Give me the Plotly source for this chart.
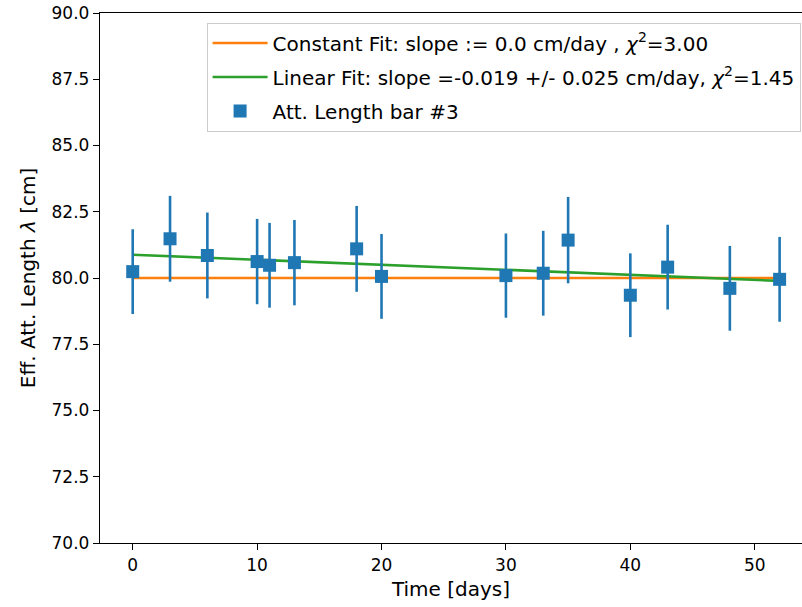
import plotly.graph_objects as go

# Data
days = [0, 3, 6, 10, 11, 13, 18, 20, 30, 33, 35, 40, 43, 48, 52]
att_length = [80.24, 81.48, 80.85, 80.62, 80.48, 80.58, 81.10, 80.06,
              80.09, 80.18, 81.43, 79.35, 80.41, 79.61, 79.95]
att_err = [1.60, 1.62, 1.62, 1.61, 1.60, 1.61, 1.62, 1.60,
           1.59, 1.60, 1.63, 1.58, 1.60, 1.60, 1.60]

fit_days = [0, 52]
const_fit = [80.0, 80.0]
linear_fit = [80.88, 79.89]

const_label = "Constant Fit: slope := 0.0 cm/day , <i>χ</i><sup>2</sup>=3.00"
linear_label = "Linear Fit: slope =-0.019 +/- 0.025 cm/day, <i>χ</i><sup>2</sup>=1.45"
data_label = "Att. Length bar #3"

x_ticks = [0, 10, 20, 30, 40, 50]
y_ticks = [70.0, 72.5, 75.0, 77.5, 80.0, 82.5, 85.0, 87.5, 90.0]

FONT = "DejaVu Sans"

fig = go.Figure()
fig.add_trace(go.Scatter(
    x=fit_days, y=const_fit, mode="lines", name=const_label,
    line=dict(color="#ff7f0e", width=2.6), legendgroup="a"))
fig.add_trace(go.Scatter(
    x=fit_days, y=linear_fit, mode="lines", name=linear_label,
    line=dict(color="#2ca02c", width=2.6), legendgroup="b"))
fig.add_trace(go.Scatter(
    x=days, y=att_length, mode="markers", name=data_label,
    marker=dict(symbol="square", size=13, color="#1f77b4"),
    error_y=dict(type="data", array=att_err, visible=True,
                 color="#1f77b4", thickness=2.6, width=0),
    legendgroup="c"))

fig.update_layout(
    width=802, height=607,
    margin=dict(l=100, r=0, t=13, b=64),
    paper_bgcolor="white", plot_bgcolor="white",
    font=dict(family=FONT, size=17, color="black"),
    showlegend=True,
    legend=dict(
        x=0.998, xanchor="right", y=0.982, yanchor="top",
        bgcolor="rgba(255,255,255,0.8)", bordercolor="#cccccc", borderwidth=1,
        font=dict(family=FONT, size=20, color="black"),
        traceorder="grouped", tracegroupgap=5, itemwidth=55,
    ),
    xaxis=dict(
        range=[-2.63, 53.80], tickvals=x_ticks,
        showgrid=False, zeroline=False,
        showline=True, linecolor="black", linewidth=1.4, mirror=True,
        ticks="outside", ticklen=6, tickwidth=1.4, tickcolor="black",
        title=dict(text="Time [days]", standoff=8),
    ),
    yaxis=dict(
        range=[70, 90], tickvals=y_ticks,
        ticktext=[f"{v:.1f}" for v in y_ticks],
        showgrid=False, zeroline=False,
        showline=True, linecolor="black", linewidth=1.4, mirror=False,
        ticks="outside", ticklen=6, tickwidth=1.4, tickcolor="black",
        title=dict(text="Eff. Att. Length <i>λ</i> [cm]", standoff=10),
    ),
)

# Remove the browser's default 8px body margin so the figure fills the window.
fig.write_html("out.html",
               config={"displayModeBar": False},
               post_script="document.body.style.margin='0';")
